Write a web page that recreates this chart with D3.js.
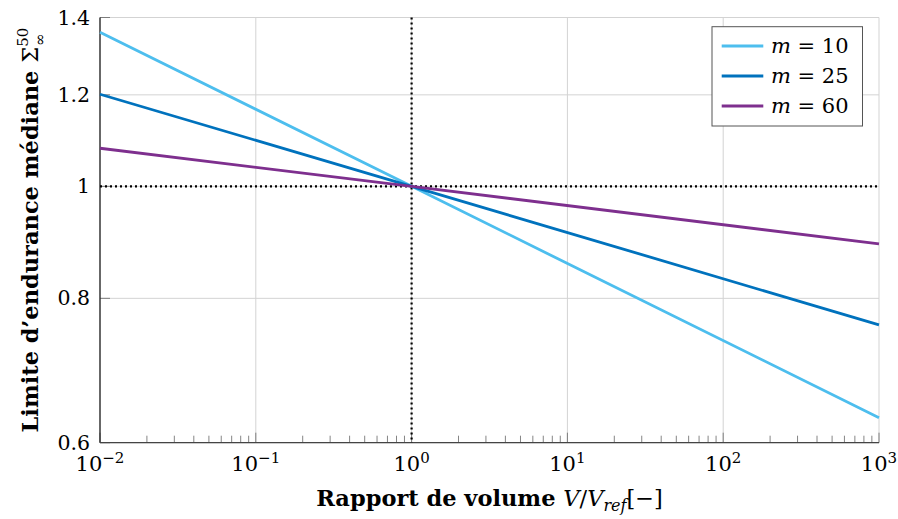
<!DOCTYPE html>
<html><head><meta charset="utf-8">
<script src="https://cdn.jsdelivr.net/npm/d3@7"></script>
<style>
body{margin:0;background:#fff;}
text{font-family:"DejaVu Serif",serif;}
</style></head>
<body>
<svg id="chart" width="898" height="519"></svg>
<script>
const xValues = [0.01, 1, 1000];
const seriesNames = ["m = 10", "m = 25", "m = 60"];
const seriesM = ["10", "25", "60"];
const m10 = [1.3595, 1, 0.6307];
const m25 = [1.2015, 1, 0.7587];
const m60 = [1.0789, 1, 0.8916];
const colors = ["#4DBEEE", "#0072BD", "#7E2F8E"];
const xTicks = [0.01, 0.1, 1, 10, 100, 1000];
const xExps = ["−2", "−1", "0", "1", "2", "3"];
const yTicks = [0.6, 0.8, 1, 1.2, 1.4];
const yTickLabels = ["0.6", "0.8", "1", "1.2", "1.4"];

const series = [m10, m25, m60];
const svg = d3.select("#chart");
const L = 100, R = 879, T = 17.5, B = 442.7;
const x = d3.scaleLog().domain([0.01, 1000]).range([L, R]);
const y = d3.scaleLog().domain([0.6, 1.4]).range([B, T]);

// grid
const g = svg.append("g");
g.selectAll(".gx").data(xTicks).join("line")
  .attr("x1", d => x(d)).attr("x2", d => x(d)).attr("y1", T).attr("y2", B)
  .attr("stroke", "#d3d3d3").attr("stroke-width", 1);
g.selectAll(".gy").data(yTicks).join("line")
  .attr("x1", L).attr("x2", R).attr("y1", d => y(d)).attr("y2", d => y(d))
  .attr("stroke", "#d3d3d3").attr("stroke-width", 1);

// minor ticks x
const minor = [];
for (let e = -2; e < 3; e++) for (let k = 2; k <= 9; k++) minor.push(k * Math.pow(10, e));
g.selectAll(".mt").data(minor).join("line")
  .attr("x1", d => x(d)).attr("x2", d => x(d)).attr("y1", B).attr("y2", B - 7)
  .attr("stroke", "#666").attr("stroke-width", 0.8);
g.selectAll(".Mt").data(xTicks).join("line")
  .attr("x1", d => x(d)).attr("x2", d => x(d)).attr("y1", B).attr("y2", B - 10)
  .attr("stroke", "#666").attr("stroke-width", 0.8);
g.selectAll(".yt").data(yTicks).join("line")
  .attr("x1", L).attr("x2", L + 10).attr("y1", d => y(d)).attr("y2", d => y(d))
  .attr("stroke", "#666").attr("stroke-width", 0.8);

// axis lines
svg.append("line").attr("x1", L).attr("x2", L).attr("y1", T).attr("y2", B).attr("stroke", "#222").attr("stroke-width", 1.3);
svg.append("line").attr("x1", L).attr("x2", R).attr("y1", B).attr("y2", B).attr("stroke", "#444").attr("stroke-width", 1.3);

// dotted reference lines
svg.append("line").attr("x1", x(1)).attr("x2", x(1)).attr("y1", T).attr("y2", B)
  .attr("stroke", "#000").attr("stroke-width", 2.2).attr("stroke-dasharray", "2,3");
svg.append("line").attr("x1", L).attr("x2", R).attr("y1", y(1)).attr("y2", y(1))
  .attr("stroke", "#000").attr("stroke-width", 2.2).attr("stroke-dasharray", "2,3");

// lines
const line = d3.line().x((d, i) => x(xValues[i])).y(d => y(d));
series.forEach((s, i) => {
  svg.append("path").datum(s).attr("d", line).attr("fill", "none")
    .attr("stroke", colors[i]).attr("stroke-width", 2.8);
});

// x tick labels
const xl = svg.selectAll(".xl").data(xTicks).join("text")
  .attr("x", d => x(d)).attr("y", 471).attr("text-anchor", "middle")
  .attr("font-size", 21);
xl.append("tspan").text("10");
xl.append("tspan").attr("dy", -8).attr("font-size", 15).text((d, i) => xExps[i]);

// y tick labels
svg.selectAll(".yl").data(yTicks).join("text")
  .attr("x", 90).attr("y", d => y(d) + 7).attr("text-anchor", "end")
  .attr("font-size", 20.5).text((d, i) => yTickLabels[i]);

// x label
const xt = svg.append("text").attr("x", (L + R) / 2).attr("y", 506)
  .attr("text-anchor", "middle").attr("font-size", 22.5);
xt.append("tspan").attr("font-weight", "bold").text("Rapport de volume ");
xt.append("tspan").attr("font-style", "italic").text("V");
xt.append("tspan").text("/");
xt.append("tspan").attr("font-style", "italic").text("V");
xt.append("tspan").attr("font-style", "italic").attr("font-size", 16).attr("dy", 5).text("ref");
xt.append("tspan").attr("dy", -5).text("[−]");

// y label
const yt = svg.append("text").attr("transform", `translate(38,${(T + B) / 2}) rotate(-90)`)
  .attr("text-anchor", "middle").attr("font-size", 22.5);
yt.append("tspan").attr("font-weight", "bold").text("Limite d’endurance médiane ");
yt.append("tspan").text("Σ");
yt.append("tspan").attr("font-size", 15).attr("dy", -10).text("50");
yt.append("tspan").attr("font-size", 15).attr("dx", -18).attr("dy", 17).text("∞");

// legend
const lg = svg.append("g");
lg.append("rect").attr("x", 712).attr("y", 26.7).attr("width", 150.5).attr("height", 99.3)
  .attr("fill", "#fff").attr("stroke", "#555").attr("stroke-width", 1);
seriesNames.forEach((n, i) => {
  const yy = 46 + i * 30;
  lg.append("line").attr("x1", 721.7).attr("x2", 763.3).attr("y1", yy).attr("y2", yy)
    .attr("stroke", colors[i]).attr("stroke-width", 2.8);
  const t = lg.append("text").attr("x", 771).attr("y", yy + 7).attr("font-size", 21);
  t.append("tspan").attr("font-style", "italic").text("m");
  t.append("tspan").text(" = " + seriesM[i]);
});
</script>
</body></html>
